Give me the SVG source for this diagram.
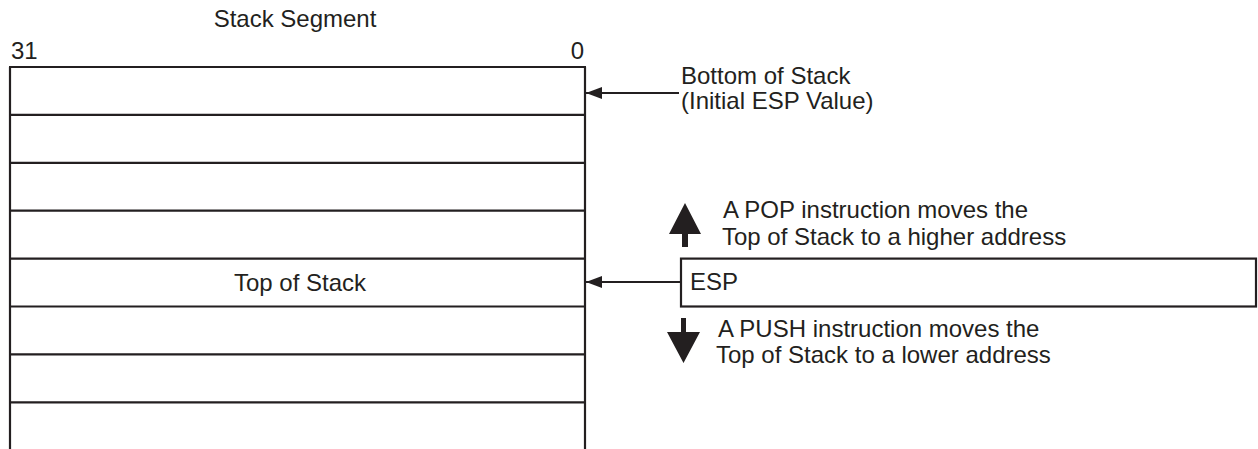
<svg xmlns="http://www.w3.org/2000/svg" width="1258" height="449" viewBox="0 0 1258 449">
<style>
text { font-family: "Liberation Sans", Arial, sans-serif; font-size: 24px; fill: #231f20; }
.ln { stroke: #231f20; stroke-width: 2.2; fill: none; }
.box { stroke: #231f20; stroke-width: 2.2; fill: #fff; }
.fill { fill: #231f20; stroke: none; }
</style>
<defs>
<marker id="ah" markerWidth="16" markerHeight="12" refX="16" refY="6" orient="auto" markerUnits="userSpaceOnUse">
<path d="M0,0 L16,6 L0,12 Z" fill="#231f20"/>
</marker>
</defs>
<rect width="1258" height="449" fill="#fff"/>
<g id="title">
<text x="295" y="27" text-anchor="middle">Stack Segment</text>
<text x="11" y="59">31</text>
<text x="584" y="59" text-anchor="end">0</text>
</g>
<g id="stack">
<path class="ln" d="M10,67 V449 M585,67 V449 M9,67 H586 M9,114.9 H586 M9,162.8 H586 M9,210.7 H586 M9,258.6 H586 M9,306.5 H586 M9,354.4 H586 M9,402.3 H586"/>
<text x="300" y="291" text-anchor="middle">Top of Stack</text>
</g>
<g id="bottom-label">
<text x="681" y="84">Bottom of Stack</text>
<text x="681" y="109">(Initial ESP Value)</text>
</g>
<g id="esp">
<rect class="box" x="681" y="258.6" width="575" height="47.9"/>
<text x="690" y="290">ESP</text>
</g>
<g id="pop-note">
<path class="fill" d="M685,203 L701,234 L688,234 L688,247 L682,247 L682,234 L669,234 Z"/>
<text x="723" y="218">A POP instruction moves the</text>
<text x="722" y="245">Top of Stack to a higher address</text>
</g>
<g id="push-note">
<path class="fill" d="M681,318 L686,318 L686,332 L700,332 L683.5,363 L667,332 L681,332 Z"/>
<text x="718" y="337">A PUSH instruction moves the</text>
<text x="716" y="363">Top of Stack to a lower address</text>
</g>
<g id="connectors">
<line class="ln" x1="679" y1="93" x2="586" y2="93" marker-end="url(#ah)"/>
<line class="ln" x1="681" y1="282" x2="586" y2="282" marker-end="url(#ah)"/>
</g>
</svg>
